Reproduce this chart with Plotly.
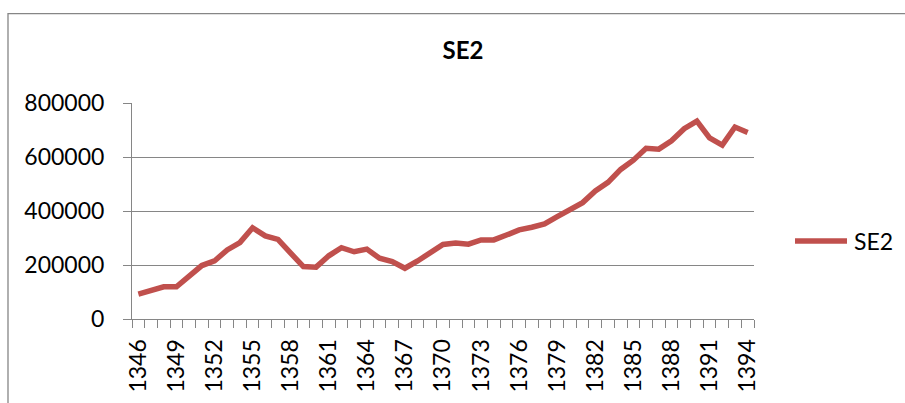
import plotly.graph_objects as go

years = list(range(1346, 1395))
se2 = [92000, 104000, 119000, 119000, 157000, 198000, 215000, 256000, 283000, 338000,
       308000, 295000, 244000, 194000, 192000, 234000, 264000, 249000, 259000, 225000,
       213000, 188000, 215000, 246000, 276000, 281000, 277000, 293000, 293000, 311000,
       330000, 340000, 352000, 379000, 404000, 431000, 474000, 506000, 554000, 588000,
       632000, 629000, 660000, 705000, 733000, 671000, 644000, 711000, 691000]
series_name = "SE2"
y_ticks = [0, 200000, 400000, 600000, 800000]

W, H = 905, 403
plot_left, plot_right, plot_top, plot_bottom = 132, 754, 102.7, 319.3
L = plot_left
R = W - plot_right
T = plot_top
B = H - plot_bottom
pw, ph = W - L - R, H - T - B

def px_x(x):
    return (x - L) / pw

def px_y(y):
    return (H - B - y) / ph

red = "#C0504D"
gray = "#868686"
font = "Lato, 'Open Sans', sans-serif"

fig = go.Figure()
fig.add_trace(go.Scatter(x=years, y=se2, mode="lines", name=series_name,
                         line=dict(color=red, width=5.5), showlegend=False))

fig.update_layout(
    width=W, height=H,
    margin=dict(l=L, r=R, t=T, b=B, autoexpand=False),
    paper_bgcolor="white", plot_bgcolor="white",
    font=dict(family=font, size=23, color="black"),
    title=dict(text="<b>SE2</b>", x=463 / W, xref="container", xanchor="center",
               y=1 - 51 / H, yref="container", yanchor="middle",
               font=dict(family=font, size=24, color="black")),
    xaxis=dict(range=[years[0] - 0.5, years[-1] + 0.5], tickmode="linear",
               tick0=years[0], dtick=3, tickangle=-90, ticks="outside", ticklen=0,
               ticklabelstandoff=10, showgrid=False, zeroline=False,
               showline=True, linecolor=gray, linewidth=1,
               minor=dict(tick0=years[0] - 0.5, dtick=1, ticks="outside", ticklen=8,
                          tickcolor=gray, tickwidth=1, showgrid=False),
               tickfont=dict(family=font, size=23)),
    yaxis=dict(range=[0, 800000], tickvals=y_ticks, tickformat="d",
               ticks="outside", ticklen=8, tickcolor=gray, ticklabelstandoff=14,
               showgrid=True, gridcolor=gray, gridwidth=1, zeroline=False,
               showline=True, linecolor=gray, linewidth=1,
               tickfont=dict(family=font, size=23)),
    shapes=[
        dict(type="rect", xref="paper", yref="paper",
             x0=px_x(8), x1=px_x(W + 30), y0=px_y(H + 30), y1=px_y(13),
             line=dict(color=gray, width=1.3), fillcolor="rgba(0,0,0,0)", layer="below"),
        dict(type="line", xref="paper", yref="paper",
             x0=px_x(795), x1=px_x(847), y0=px_y(241), y1=px_y(241),
             line=dict(color=red, width=5.5)),
    ],
    annotations=[
        dict(text=series_name, xref="paper", yref="paper", x=px_x(852), y=px_y(241),
             xanchor="left", yanchor="middle", showarrow=False,
             font=dict(family=font, size=23, color="black")),
    ],
)

fig.write_html("out.html", config={"displayModeBar": False},
               post_script="document.body.style.margin='0';document.body.style.overflow='hidden';")
